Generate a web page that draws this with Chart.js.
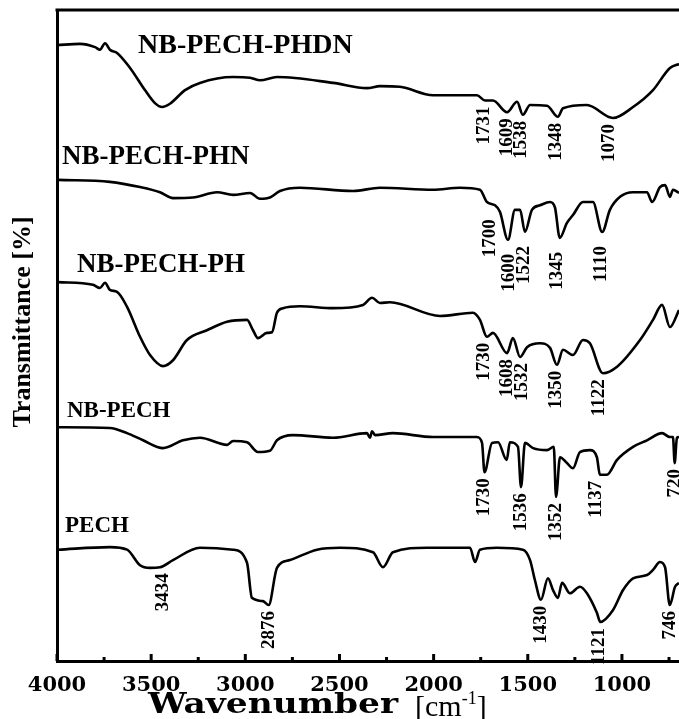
<!DOCTYPE html>
<html>
<head>
<meta charset="utf-8">
<script src="https://cdn.jsdelivr.net/npm/chart.js@4.4.1/dist/chart.umd.min.js"></script>
<style>
  body { margin: 0; background: #fff; }
  canvas { display: block; }
</style>
</head>
<body>
<canvas id="ftirChart" width="679" height="719"></canvas>
<script>
// wavenumber axis labels
const wavenumberTicks = [4000, 3500, 3000, 2500, 2000, 1500, 1000];

// spectra (stacked, arbitrary transmittance units)
const phdnWn = [4000, 3878, 3798, 3772, 3745, 3719, 3681, 3612, 3533, 3480, 3442, 3400, 3320, 3241, 3065, 2975, 2922, 2832, 2534, 2354, 2285, 2179, 2003, 1770, 1727, 1685, 1610, 1557, 1526, 1488, 1398, 1340, 1313, 1186, 1048, 941, 835, 745, 697];
const phdnT = [94.6, 94.8, 94.3, 93.9, 94.9, 93.9, 93.4, 91.1, 87.7, 85.7, 85.1, 85.6, 87.7, 88.8, 89.7, 89.6, 89.2, 89.7, 88.8, 88.0, 88.3, 88.2, 86.9, 86.9, 86.1, 86.1, 84.3, 85.9, 83.9, 85.4, 85.3, 83.6, 84.9, 85.4, 83.4, 85.1, 87.7, 91.1, 91.7];

const phnWn = [3995, 3719, 3559, 3453, 3384, 3278, 3150, 3065, 2975, 2922, 2869, 2816, 2710, 2428, 2285, 2003, 1860, 1754, 1717, 1674, 1648, 1605, 1568, 1541, 1515, 1478, 1435, 1382, 1356, 1330, 1292, 1260, 1207, 1154, 1105, 1064, 1010, 941, 867, 840, 798, 771, 745, 729, 697];
const phnT = [73.9, 73.6, 72.8, 72.0, 71.1, 71.2, 72.0, 71.6, 71.9, 71.0, 71.2, 72.2, 72.7, 72.2, 72.7, 72.4, 72.7, 72.4, 70.5, 70.0, 69.0, 64.7, 69.3, 69.3, 65.9, 69.3, 70.0, 70.5, 69.7, 65.0, 67.3, 68.5, 70.5, 70.5, 65.9, 69.3, 71.3, 72.0, 72.0, 70.5, 72.8, 73.1, 71.3, 72.4, 71.9];

const phWn = [3995, 3809, 3772, 3745, 3719, 3681, 3628, 3559, 3506, 3437, 3384, 3310, 3204, 3097, 2991, 2959, 2933, 2885, 2858, 2832, 2800, 2710, 2534, 2375, 2327, 2285, 2232, 1966, 1791, 1754, 1717, 1685, 1610, 1579, 1541, 1504, 1435, 1382, 1345, 1313, 1260, 1207, 1170, 1101, 1026, 904, 835, 787, 745, 697];
const phT = [58.2, 57.8, 57.3, 58.1, 57.0, 56.7, 54.4, 49.8, 47.0, 45.3, 46.2, 49.3, 50.8, 52.1, 52.4, 50.8, 49.6, 50.4, 50.5, 53.5, 54.2, 54.5, 54.2, 54.7, 55.8, 55.0, 55.1, 53.0, 53.5, 52.4, 49.8, 50.4, 47.3, 49.6, 46.7, 48.2, 48.8, 48.1, 45.5, 47.8, 47.0, 49.3, 48.8, 44.2, 45.2, 49.3, 52.4, 54.7, 51.3, 53.9];

const nbWn = [3995, 3719, 3628, 3543, 3437, 3331, 3241, 3097, 3065, 2991, 2933, 2869, 2832, 2747, 2534, 2354, 2338, 2327, 2311, 2216, 2003, 1770, 1743, 1730, 1690, 1658, 1612, 1595, 1552, 1536, 1515, 1472, 1398, 1362, 1350, 1329, 1292, 1260, 1223, 1170, 1133, 1117, 1080, 1026, 941, 867, 787, 745, 729, 720, 708, 697];
const nbT = [35.9, 35.8, 35.0, 33.9, 32.7, 33.9, 34.3, 33.2, 33.8, 33.6, 32.1, 32.3, 33.9, 34.7, 34.3, 35.0, 34.3, 35.3, 34.7, 35.0, 34.4, 34.4, 33.5, 29.0, 33.5, 33.6, 30.9, 33.6, 32.9, 26.7, 33.5, 32.7, 32.4, 32.9, 25.2, 31.3, 30.4, 29.6, 32.1, 32.4, 31.3, 28.6, 28.6, 30.9, 32.9, 33.9, 35.0, 34.4, 34.4, 30.4, 34.3, 34.4];

const pechWn = [3995, 3719, 3628, 3559, 3506, 3453, 3384, 3241, 3065, 2991, 2965, 2906, 2876, 2832, 2763, 2619, 2497, 2322, 2269, 2216, 2035, 1807, 1780, 1754, 1664, 1526, 1488, 1462, 1430, 1393, 1366, 1340, 1318, 1276, 1223, 1186, 1133, 1115, 1048, 994, 941, 867, 835, 798, 771, 746, 718, 697];
const pechT = [17.1, 17.5, 17.1, 14.7, 14.3, 14.4, 15.5, 17.4, 17.1, 15.1, 9.7, 9.2, 8.6, 14.3, 15.5, 17.1, 17.4, 16.7, 14.4, 16.7, 17.4, 17.4, 15.2, 17.1, 17.4, 17.1, 15.5, 12.4, 9.4, 12.7, 10.9, 9.7, 12.0, 10.4, 11.4, 10.4, 7.4, 6.0, 7.8, 10.9, 12.7, 13.2, 14.0, 15.2, 14.4, 8.6, 11.4, 12.0];

// sample names and marked bands
const sampleNames = ['NB-PECH-PHDN', 'NB-PECH-PHN', 'NB-PECH-PH', 'NB-PECH', 'PECH'];
const phdnPeaks = [1731, 1609, 1538, 1348, 1070];
const phnPeaks = [1700, 1600, 1522, 1345, 1110];
const phPeaks = [1730, 1608, 1532, 1350, 1122];
const nbPeaks = [1730, 1536, 1352, 1137, 720];
const pechPeaks = [3434, 2876, 1430, 1121, 746];

// layout of the name labels (left px, baseline px, font px) and peak label gap
const nameLayout = [
  { x: 138, y: 53, size: 28 },
  { x: 62, y: 164, size: 27 },
  { x: 77, y: 272, size: 27 },
  { x: 67, y: 417, size: 23 },
  { x: 65, y: 532, size: 23 }
];
const peakGap = [6, 14, 6, 6, 6];

const spectra = [
  [phdnWn, phdnT, phdnPeaks],
  [phnWn, phnT, phnPeaks],
  [phWn, phT, phPeaks],
  [nbWn, nbT, nbPeaks],
  [pechWn, pechT, pechPeaks]
];

function toPoints(wn, t) {
  return wn.map((w, i) => ({ x: w, y: t[i] }));
}

const serif = '"Liberation Serif", "Times New Roman", serif';
const wideSerif = '"DejaVu Serif", serif';

// draws text squeezed or stretched to a given width
function fitText(ctx, text, x, y, width) {
  const w = ctx.measureText(text).width;
  ctx.save();
  ctx.translate(x, y);
  ctx.scale(width / w, 1);
  ctx.fillText(text, 0, 0);
  ctx.restore();
}

const decorPlugin = {
  id: 'decor',
  afterDraw(chart) {
    const ctx = chart.ctx;
    const xs = chart.scales.x;
    const ys = chart.scales.y;
    const area = chart.chartArea;
    ctx.save();
    ctx.fillStyle = '#000';
    ctx.strokeStyle = '#000';

    // top frame line
    ctx.lineWidth = 3;
    ctx.beginPath();
    ctx.moveTo(area.left - 1.5, area.top);
    ctx.lineTo(chart.width, area.top);
    ctx.stroke();

    // inward ticks on the wavenumber axis
    for (let v = 4000; v >= 750; v -= 250) {
      const px = xs.getPixelForValue(v);
      const len = v % 500 === 0 ? 7 : 4;
      ctx.beginPath();
      ctx.moveTo(px, area.bottom);
      ctx.lineTo(px, area.bottom - len);
      ctx.stroke();
    }

    // sample names
    ctx.textAlign = 'left';
    ctx.textBaseline = 'alphabetic';
    sampleNames.forEach((name, i) => {
      const l = nameLayout[i];
      ctx.font = 'bold ' + l.size + 'px ' + serif;
      ctx.fillText(name, l.x, l.y);
    });

    // peak labels, vertical, just under the band minimum
    ctx.font = 'bold 19px ' + serif;
    ctx.textAlign = 'right';
    ctx.textBaseline = 'middle';
    spectra.forEach(([wn, t, peaks], s) => {
      peaks.forEach(p => {
        let lo = Infinity;
        wn.forEach((w, i) => { if (Math.abs(w - p) <= 40 && t[i] < lo) lo = t[i]; });
        const px = xs.getPixelForValue(p);
        const py = ys.getPixelForValue(lo) + peakGap[s];
        ctx.save();
        ctx.translate(px, py);
        ctx.rotate(-Math.PI / 2);
        ctx.fillText(String(p), 0, 0);
        ctx.restore();
      });
    });

    // y title
    ctx.save();
    ctx.font = 'bold 26px ' + serif;
    ctx.textAlign = 'center';
    ctx.textBaseline = 'middle';
    ctx.translate(23, 322);
    ctx.rotate(-Math.PI / 2);
    ctx.fillText('Transmittance [%]', 0, 0);
    ctx.restore();

    // x title
    const base = 713;
    ctx.textAlign = 'left';
    ctx.textBaseline = 'alphabetic';
    ctx.font = 'bold 28px ' + wideSerif;
    fitText(ctx, 'Wavenumber', 148, base, 250);
    let x = 415;
    ctx.font = '30px ' + serif;
    ctx.fillText('[cm', x, base + 3);
    x += ctx.measureText('[cm').width;
    ctx.font = '18px ' + serif;
    ctx.fillText('-1', x, base - 9);
    x += ctx.measureText('-1').width;
    ctx.font = '30px ' + serif;
    ctx.fillText(']', x, base + 3);

    ctx.restore();
  }
};

new Chart(document.getElementById('ftirChart'), {
  type: 'line',
  data: {
    datasets: spectra.map(([wn, t], i) => ({
      label: sampleNames[i],
      data: toPoints(wn, t),
      borderColor: '#000',
      borderWidth: 2.6,
      pointRadius: 0,
      cubicInterpolationMode: 'monotone',
      fill: false
    }))
  },
  options: {
    responsive: false,
    animation: false,
    layout: { padding: { top: 10, right: 0, left: 0, bottom: 0 } },
    plugins: { legend: { display: false }, tooltip: { enabled: false } },
    scales: {
      x: {
        type: 'linear',
        reverse: true,
        min: 697,
        max: 4000,
        grid: { display: false, drawTicks: false },
        border: { display: true, color: '#000', width: 3 },
        afterBuildTicks: s => { s.ticks = wavenumberTicks.map(v => ({ value: v })); },
        afterFit: s => { s.height = 58; },
        ticks: {
          autoSkip: false,
          maxRotation: 0,
          padding: 12,
          color: '#000',
          font: { family: wideSerif, size: 21, weight: 'bold' },
          callback: v => String(v)
        }
      },
      y: {
        min: 0,
        max: 100,
        grid: { display: false, drawTicks: false },
        border: { display: true, color: '#000', width: 3 },
        ticks: { display: false },
        afterFit: s => { s.width = 57; }
      }
    }
  },
  plugins: [decorPlugin]
});
</script>
</body>
</html>
